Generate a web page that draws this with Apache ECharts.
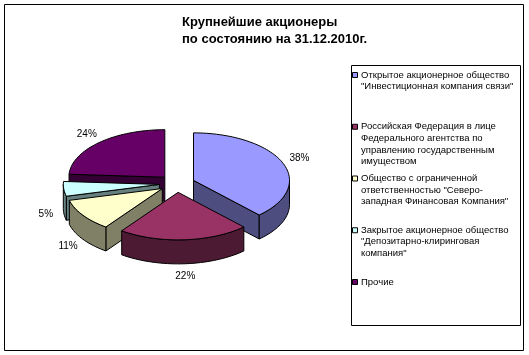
<html lang="ru">
<head>
	<meta charset="utf-8">
	<title>Крупнейшие акционеры</title>
	<script src="https://cdn.jsdelivr.net/npm/echarts@6/dist/echarts.min.js"></script>
	<style>
		html, body { margin: 0; padding: 0; background: #fff; }
		#chart { width: 529px; height: 355px; }
	</style>
</head>
<body>
	<div id="chart"></div>
	<script>
		// данные
		var titleLines = ['Крупнейшие акционеры', 'по состоянию на 31.12.2010г.'];
		var holders = [
			'Открытое акционерное общество\n"Инвестиционная компания связи"',
			'Российская Федерация в лице\nФедерального агентства по\nуправлению государственным\nимуществом',
			'Общество с ограниченной\nответственностью "Северо-\nзападная Финансовая Компания"',
			'Закрытое акционерное общество\n"Депозитарно-клиринговая\nкомпания"',
			'Прочие'
		];
		var shares = [38, 22, 11, 5, 24];

		// оформление
		var palette = ['#9999FF', '#993366', '#FFFFCC', '#CCFFFF', '#660066'];
		var FONT = '"Liberation Sans", Arial, sans-serif';
		var CX = 177, CY = 183.6, RX = 96, RY = 47.5, H = 24, EXPL = 0.185;

		var total = shares.reduce(function (s, v) { return s + v; }, 0);
		var starts = [];
		var acc = 0;
		for (var i = 0; i < shares.length; i++) {
			starts.push(acc / total * 2 * Math.PI);
			acc += shares[i];
		}
		// порядок отрисовки: дальние сектора первыми
		var order = shares.map(function (v, i) {
			var mid = starts[i] + v / total * Math.PI;
			return { i: i, d: -Math.cos(mid) };
		}).sort(function (a, b) { return a.d - b.d; });
		var rank = [];
		order.forEach(function (o, k) { rank[o.i] = k; });

		function darken(hex) {
			var n = parseInt(hex.slice(1), 16);
			var r = Math.round(((n >> 16) & 255) / 2), g = Math.round(((n >> 8) & 255) / 2), b = Math.round((n & 255) / 2);
			return 'rgb(' + r + ',' + g + ',' + b + ')';
		}
		function pt(cx, cy, a, dy) {
			return [cx + RX * Math.sin(a), cy - RY * Math.cos(a) + (dy || 0)];
		}
		function arc(cx, cy, a0, a1, dy) {
			var n = Math.max(2, Math.ceil((a1 - a0) / (Math.PI / 90)));
			var pts = [];
			for (var k = 0; k <= n; k++) pts.push(pt(cx, cy, a0 + (a1 - a0) * k / n, dy));
			return pts;
		}

		function renderSlice(params, api) {
			var i = params.dataIndex;
			var v = api.value(0);
			var a0 = starts[i], a1 = a0 + v / total * 2 * Math.PI;
			var mid = (a0 + a1) / 2;
			var cx = CX + EXPL * RX * Math.sin(mid), cy = CY - EXPL * RY * Math.cos(mid);
			var top = palette[i], side = darken(top);
			var base = rank[i] * 10;
			var kids = [];
			function face(points, fill, z) {
				kids.push({
					type: 'polygon', shape: { points: points }, z2: base + z,
					style: { fill: fill, stroke: '#000', lineWidth: 1, lineJoin: 'round' }
				});
			}
			// радиальные грани
			if (Math.sin(a0) < 0) {
				var p = pt(cx, cy, a0);
				face([[cx, cy], p, [p[0], p[1] + H], [cx, cy + H]], side, 1);
			}
			if (Math.sin(a1) > 0) {
				var q = pt(cx, cy, a1);
				face([[cx, cy], q, [q[0], q[1] + H], [cx, cy + H]], side, 1);
			}
			// боковая поверхность
			var s = Math.max(a0, Math.PI / 2), e = Math.min(a1, Math.PI * 1.5);
			if (e > s) {
				var upper = arc(cx, cy, s, e, 0);
				var lower = arc(cx, cy, s, e, H).reverse();
				face(upper.concat(lower), side, 2);
			}
			// верхняя грань
			face([[cx, cy]].concat(arc(cx, cy, a0, a1, 0)), top, 3);
			// подпись
			var c = Math.cos(mid);
			kids.push({
				type: 'text', z2: 200,
				x: cx + (RX + 18) * Math.sin(mid),
				y: cy - (RY + 12) * c + (c < 0 ? H : 0),
				style: {
					text: Math.round(v / total * 100) + '%', font: '10px ' + FONT,
					fill: '#000', align: 'center', verticalAlign: 'middle'
				}
			});
			return { type: 'group', children: kids };
		}

		// легенда
		var legendItems = [];
		var LEG_TOP = 75, LEG_STEP = 51.75, LINE_H = 11.6;
		holders.forEach(function (name, i) {
			var y = LEG_TOP + i * LEG_STEP;
			legendItems.push({
				type: 'rect', shape: { x: 352.5, y: y - 2.5, width: 5, height: 5 },
				style: { fill: palette[i], stroke: '#000', lineWidth: 1 }
			});
			legendItems.push({
				type: 'text', x: 361, y: y - LINE_H / 2,
				style: { text: name, font: '9.5px ' + FONT, fill: '#000', lineHeight: LINE_H, verticalAlign: 'top' }
			});
		});

		var chart = echarts.init(document.getElementById('chart'), null, { renderer: 'canvas' });
		chart.setOption({
			animation: false,
			backgroundColor: '#fff',
			title: {
				text: titleLines.join('\n'), left: 182, top: 14, padding: 0,
				textStyle: { fontFamily: FONT, fontSize: 13, fontWeight: 'bold', lineHeight: 17, color: '#000' }
			},
			graphic: [
				{ type: 'rect', shape: { x: 4.5, y: 4.5, width: 519, height: 346 }, style: { fill: 'none', stroke: '#000', lineWidth: 1 } },
				{ type: 'rect', shape: { x: 351.5, y: 65.5, width: 169, height: 260 }, style: { fill: '#fff', stroke: '#000', lineWidth: 1 } }
			].concat(legendItems),
			series: [{
				type: 'custom',
				coordinateSystem: 'none',
				renderItem: renderSlice,
				data: shares
			}]
		});
	</script>
</body>
</html>
